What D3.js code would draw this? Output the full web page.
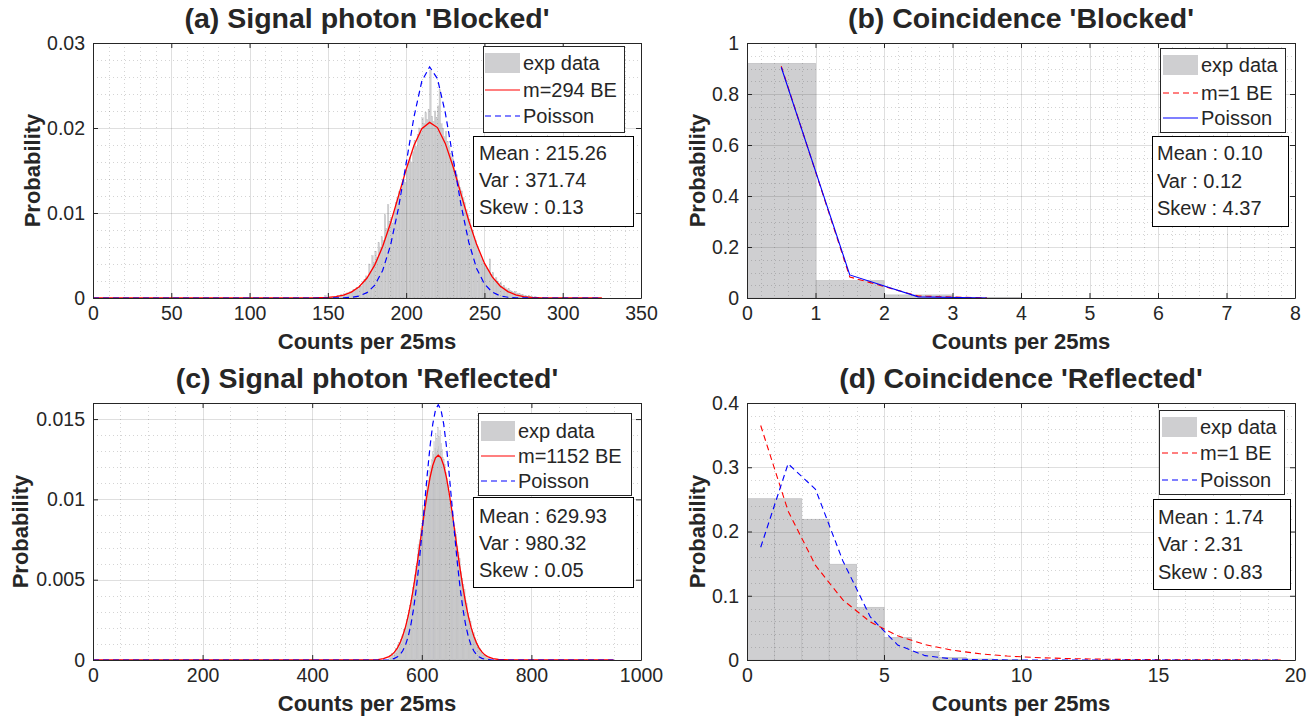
<!DOCTYPE html>
<html><head><meta charset="utf-8">
<script src="https://cdn.jsdelivr.net/npm/d3@7"></script>
<style>
body{margin:0;background:#fff;}
text{font-family:"Liberation Sans",Arial,Helvetica,sans-serif;fill:#262626;}
</style>
</head><body>
<svg id="chart" width="1311" height="722"></svg>
<script>
// ---------------- DATA ----------------
const titles = ["(a) Signal photon 'Blocked'", "(b) Coincidence 'Blocked'", "(c) Signal photon 'Reflected'", "(d) Coincidence 'Reflected'"];
const xLabel = "Counts per 25ms";
const yLabel = "Probability";

// tick values / labels
const xTicksA = [0,50,100,150,200,250,300,350];
const yTicksA = [0,0.01,0.02,0.03];
const yTickLabelsA = ["0","0.01","0.02","0.03"];
const xTicksB = [0,1,2,3,4,5,6,7,8];
const yTicksB = [0,0.2,0.4,0.6,0.8,1];
const yTickLabelsB = ["0","0.2","0.4","0.6","0.8","1"];
const xTicksC = [0,200,400,600,800,1000];
const yTicksC = [0,0.005,0.01,0.015];
const yTickLabelsC = ["0","0.005","0.01","0.015"];
const xTicksD = [0,5,10,15,20];
const yTicksD = [0,0.1,0.2,0.3,0.4];
const yTickLabelsD = ["0","0.1","0.2","0.3","0.4"];

// (a) histogram, bin width 1, first bin starts at histStartA
const histStartA = 148;
const histA = [
0.0003,0,0.0001,0,0.0001,0.0001,0.0002,0.0001,0.0003,0.0002,
0.0004,0.0003,0.0005,0.0004,0.0006,0.0005,0.0008,0.0007,0.0010,0.0009,
0.0012,0.0011,0.0015,0.0014,0.0019,0.0022,0.0026,0.0024,0.0040,0.0031,
0.0050,0.0042,0.0055,0.0048,0.0065,0.0060,0.0072,0.0068,0.0098,0.0082,
0.0110,0.0090,0.0095,0.0088,0.0102,0.0112,0.0118,0.0125,0.0121,0.0132,
0.0140,0.0136,0.0150,0.0158,0.0165,0.0160,0.0172,0.0185,0.0178,0.0192,
0.0200,0.0195,0.0212,0.0205,0.0218,0.0210,0.0222,0.0268,0.0214,0.0208,
0.0220,0.0212,0.0226,0.0245,0.0205,0.0200,0.0190,0.0196,0.0184,0.0178,
0.0170,0.0165,0.0158,0.0150,0.0145,0.0138,0.0130,0.0126,0.0118,0.0112,
0.0104,0.0098,0.0093,0.0085,0.0080,0.0072,0.0068,0.0061,0.0056,0.0050,
0.0045,0.0041,0.0039,0.0035,0.0032,0.0046,0.0028,0.0030,0.0022,0.0024,
0.0020,0.0017,0.0018,0.0014,0.0015,0.0012,0.0010,0.0011,0.0009,0.0008,
0.0007,0.0008,0.0006,0.0005,0.0005,0.0004,0.0004,0.0003,0.0003,0.0002,
0.0003,0.0002,0.0002,0.0001,0.0002,0.0001,0.0001,0.0001,0,0.0001
];
// (a) fitted curves
const curveXA = [0,140,145,150,155,160,165,170,175,180,185,190,195,200,205,210,215,220,225,230,235,240,245,250,255,260,265,270,275,280,285,290,295,300,325];
const beA = [0,0.00001,0.00003,0.00007,0.00016,0.00034,0.0007,0.00133,0.00235,0.0039,0.00605,0.00879,0.01192,0.01512,0.01794,0.01991,0.02066,0.02005,0.01819,0.01544,0.01225,0.00909,0.00631,0.0041,0.00249,0.00141,0.00075,0.00037,0.00017,0.00008,0.00003,0.00001,0,0,0];
const poisA = [0,0,0,0,0.000005,0.00002,0.00008,0.00023,0.00063,0.00151,0.00324,0.00618,0.01048,0.01584,0.0213,0.0255,0.0272,0.0258,0.0218,0.01642,0.0110,0.00656,0.00348,0.00165,0.00069,0.00026,0.00009,0.00003,0.00001,0,0,0,0,0,0];

// (b) histogram (bins of width 1 starting at 0) and curves at bin centres
const histB = [0.920,0.068,0.012,0.002];
const curveXB = [0.5,1.5,2.5,3.5];
const beB = [0.909,0.0826,0.0075,0.0007];
const poisB = [0.905,0.0905,0.0045,0.0002];

// (c) histogram, bin width 1
const histStartC = 540;
const histC = [
0.0002,0,0.0003,0.0001,0.0002,0.0004,0.0002,0.0003,0.0001,0.0004,
0.0005,0.0003,0.0007,0.0006,0.0004,0.0008,0.0009,0.0006,0.0011,0.0008,
0.0010,0.0013,0.0009,0.0015,0.0012,0.0016,0.0014,0.0019,0.0015,0.0020,
0.0021,0.0018,0.0025,0.0023,0.0028,0.0024,0.0031,0.0027,0.0034,0.0030,
0.0037,0.0040,0.0036,0.0045,0.0043,0.0048,0.0046,0.0053,0.0050,0.0058,
0.0060,0.0055,0.0066,0.0072,0.0068,0.0075,0.0070,0.0082,0.0078,0.0080,
0.0085,0.0096,0.0088,0.0094,0.0091,0.0100,0.0097,0.0104,0.0099,0.0108,
0.0106,0.0112,0.0109,0.0118,0.0114,0.0121,0.0117,0.0125,0.0119,0.0130,
0.0124,0.0128,0.0136,0.0126,0.0132,0.0141,0.0129,0.0138,0.0131,0.0145,
0.0133,0.0139,0.0127,0.0143,0.0130,0.0135,0.0124,0.0131,0.0126,0.0122,
0.0125,0.0118,0.0122,0.0115,0.0117,0.0111,0.0113,0.0106,0.0109,0.0103,
0.0100,0.0097,0.0099,0.0092,0.0095,0.0090,0.0086,0.0089,0.0083,0.0080,
0.0082,0.0076,0.0074,0.0078,0.0069,0.0071,0.0065,0.0067,0.0061,0.0063,
0.0058,0.0054,0.0055,0.0049,0.0051,0.0046,0.0047,0.0042,0.0044,0.0039,
0.0037,0.0033,0.0035,0.0030,0.0028,0.0029,0.0025,0.0026,0.0022,0.0024,
0.0020,0.0018,0.0019,0.0016,0.0015,0.0017,0.0013,0.0014,0.0011,0.0012,
0.0010,0.0009,0.0008,0.0009,0.0007,0.0006,0.0007,0.0005,0.0006,0.0004,
0.0005,0.0003,0.0004,0.0003,0.0002,0.0003,0.0002,0.0001,0.0002,0.0001,
0.0001,0,0.0001,0,0.0001
];
const curveXC = [0,500,520,530,540,545,550,555,560,565,570,575,580,585,590,595,600,605,610,615,620,625,630,635,640,645,650,655,660,665,670,675,680,685,690,695,700,705,710,715,720,730,740,760,950];
const beC = [0,0,0.000027,0.00008,0.00021,0.00032,0.00049,0.00072,0.00105,0.00148,0.00203,0.00272,0.00356,0.00454,0.00564,0.00682,0.00805,0.00927,0.01039,0.01136,0.01211,0.01259,0.01275,0.01259,0.01211,0.01136,0.01039,0.00927,0.00805,0.00682,0.00564,0.00454,0.00356,0.00272,0.00203,0.00148,0.00105,0.00072,0.00049,0.00032,0.00021,0.00008,0.00003,0,0];
const poisC = [0,0,0,0,0,0.00005,0.0001,0.00018,0.00033,0.00056,0.00091,0.00144,0.00218,0.00319,0.00446,0.00601,0.00778,0.00968,0.01157,0.01329,0.01468,0.01558,0.01589,0.01558,0.01468,0.01329,0.01157,0.00968,0.00778,0.00601,0.00446,0.00319,0.00218,0.00144,0.00091,0.00056,0.00033,0.00018,0.0001,0.00005,0.00002,0,0,0,0];

// (d) histogram (bins of width 1 starting at 0) and curves at bin centres
const histD = [0.251,0.251,0.219,0.149,0.082,0.035,0.0135,0.004,0.0015,0.0005];
const curveXD = [0.5,1.5,2.5,3.5,4.5,5.5,6.5,7.5,8.5,9.5,10.5,11.5,12.5,13.5,14.5,15.5,16.5,17.5,18.5,19.5];
const beD = [0.36496,0.23176,0.14718,0.09346,0.05935,0.03769,0.02394,0.01520,0.00965,0.00613,0.00389,0.00247,0.00157,0.00100,0.00063,0.00040,0.00026,0.00016,0.00010,0.00007];
const poisD = [0.17552,0.30540,0.26570,0.15411,0.06704,0.02333,0.00677,0.00168,0.00037,0.00007,0.00001,0,0,0,0,0,0,0,0,0];

// legends and statistics
const legendA = ["exp data","m=294 BE","Poisson"];
const legendB = ["exp data","m=1 BE","Poisson"];
const legendC = ["exp data","m=1152 BE","Poisson"];
const legendD = ["exp data","m=1 BE","Poisson"];
const statsA = ["Mean : 215.26","Var : 371.74","Skew : 0.13"];
const statsB = ["Mean : 0.10","Var : 0.12","Skew : 4.37"];
const statsC = ["Mean : 629.93","Var : 980.32","Skew : 0.05"];
const statsD = ["Mean : 1.74","Var : 2.31","Skew : 0.83"];

// ---------------- LAYOUT / STYLE ----------------
const RED = "#ff0000", BLUE = "#0000ff", BAR = "#cfcfd1", AX = "#262626";
const DASH = "6,4";

const panels = [
  {title:titles[0], x0:93, x1:641, y0:43, y1:298, xd:[0,350], yd:[0,0.03],
   xt:xTicksA, xtl:xTicksA.map(String), yt:yTicksA, ytl:yTickLabelsA, xMinor:10, yMinor:0.002,
   hist:{start:histStartA, w:1, vals:histA}, curves:[
     {x:curveXA, y:beA, color:RED, dash:null, w:1.3},
     {x:curveXA, y:poisA, color:BLUE, dash:DASH, w:1.2}],
   leg:{labels:legendA, x0:483, x1:624, y0:46, y1:132, rows:[63,90,116], patch:[485,520], tx:523,
        styles:[{patch:true},{color:RED,dash:null},{color:BLUE,dash:DASH}]},
   stats:{lines:statsA, x0:473, x1:633, y0:136, y1:226, rows:[153,180,207], tx:479},
   ylx:40},
  {title:titles[1], x0:747, x1:1295, y0:43, y1:298, xd:[0,8], yd:[0,1],
   xt:xTicksB, xtl:xTicksB.map(String), yt:yTicksB, ytl:yTickLabelsB, xMinor:0.2, yMinor:0.05,
   hist:{start:0, w:1, vals:histB}, curves:[
     {x:curveXB, y:beB, color:RED, dash:DASH, w:1.1},
     {x:curveXB, y:poisB, color:BLUE, dash:null, w:1.1}],
   leg:{labels:legendB, x0:1160, x1:1285, y0:48, y1:132, rows:[65,93,118], patch:[1163,1198], tx:1201,
        styles:[{patch:true},{color:RED,dash:DASH},{color:BLUE,dash:null}]},
   stats:{lines:statsB, x0:1152, x1:1288, y0:136, y1:226, rows:[153,181,208], tx:1157},
   ylx:705},
  {title:titles[2], x0:93, x1:641, y0:403, y1:660, xd:[0,1000], yd:[0,0.016],
   xt:xTicksC, xtl:xTicksC.map(String), yt:yTicksC, ytl:yTickLabelsC, xMinor:50, yMinor:0.001,
   hist:{start:histStartC, w:1, vals:histC}, curves:[
     {x:curveXC, y:beC, color:RED, dash:null, w:1.3},
     {x:curveXC, y:poisC, color:BLUE, dash:DASH, w:1.2}],
   leg:{labels:legendC, x0:478, x1:631, y0:413, y1:495, rows:[431,456,481], patch:[481,515], tx:518,
        styles:[{patch:true},{color:RED,dash:null},{color:BLUE,dash:DASH}]},
   stats:{lines:statsC, x0:473, x1:633, y0:497, y1:587, rows:[516,543,570], tx:479},
   ylx:28},
  {title:titles[3], x0:747, x1:1295, y0:403, y1:660, xd:[0,20], yd:[0,0.4],
   xt:xTicksD, xtl:xTicksD.map(String), yt:yTicksD, ytl:yTickLabelsD, xMinor:1, yMinor:0.02,
   hist:{start:0, w:1, vals:histD}, curves:[
     {x:curveXD, y:beD, color:RED, dash:DASH, w:1.1},
     {x:curveXD, y:poisD, color:BLUE, dash:DASH, w:1.1}],
   leg:{labels:legendD, x0:1159, x1:1284, y0:410, y1:494, rows:[427,453,480], patch:[1162,1197], tx:1200,
        styles:[{patch:true},{color:RED,dash:DASH},{color:BLUE,dash:DASH}]},
   stats:{lines:statsD, x0:1153, x1:1290, y0:499, y1:589, rows:[517,544,572], tx:1158},
   ylx:705}
];

const svg = d3.select("#chart");
svg.append("rect").attr("width",1311).attr("height",722).attr("fill","#fff");

panels.forEach((p, i) => {
  const x = d3.scaleLinear().domain(p.xd).range([p.x0, p.x1]);
  const y = d3.scaleLinear().domain(p.yd).range([p.y1, p.y0]);
  const g = svg.append("g");
  const cid = "clip" + i;
  svg.append("clipPath").attr("id", cid).append("rect")
    .attr("x", p.x0).attr("y", p.y0).attr("width", p.x1 - p.x0).attr("height", p.y1 - p.y0);

  // histogram bars
  const hb = g.append("g").attr("clip-path", `url(#${cid})`);
  const thin = (x(p.hist.start + 1) - x(p.hist.start)) < 3;
  hb.selectAll("rect").data(p.hist.vals).join("rect")
    .attr("x", (d, k) => x(p.hist.start + k * p.hist.w))
    .attr("width", (d, k) => x(p.hist.start + (k + 1) * p.hist.w) - x(p.hist.start + k * p.hist.w))
    .attr("y", d => y(d))
    .attr("height", d => y(0) - y(d))
    .attr("fill", BAR)
    .attr("stroke", thin ? "#b9b9bb" : "#bdbdbf")
    .attr("stroke-width", thin ? 0.3 : 0.7);

  // grid (drawn over bars with transparency)
  const eps = 1e-9;
  const xMin = d3.range(p.xd[0], p.xd[1] + eps, p.xMinor).filter(v => !p.xt.some(t => Math.abs(t - v) < p.xMinor / 10));
  const yMin = d3.range(p.yd[0], p.yd[1] + eps, p.yMinor).filter(v => !p.yt.some(t => Math.abs(t - v) < p.yMinor / 10));
  const grid = g.append("g");
  grid.selectAll(".mx").data(xMin).join("line")
    .attr("x1", d => Math.round(x(d)) + 0.5).attr("x2", d => Math.round(x(d)) + 0.5)
    .attr("y1", p.y0).attr("y2", p.y1)
    .attr("stroke", AX).attr("stroke-opacity", 0.2).attr("stroke-dasharray", "1,3");
  grid.selectAll(".my").data(yMin).join("line")
    .attr("y1", d => Math.round(y(d)) + 0.5).attr("y2", d => Math.round(y(d)) + 0.5)
    .attr("x1", p.x0).attr("x2", p.x1)
    .attr("stroke", AX).attr("stroke-opacity", 0.2).attr("stroke-dasharray", "1,3");
  grid.selectAll(".gx").data(p.xt).join("line")
    .attr("x1", d => Math.round(x(d)) + 0.5).attr("x2", d => Math.round(x(d)) + 0.5)
    .attr("y1", p.y0).attr("y2", p.y1)
    .attr("stroke", AX).attr("stroke-opacity", 0.15);
  grid.selectAll(".gy").data(p.yt).join("line")
    .attr("y1", d => Math.round(y(d)) + 0.5).attr("y2", d => Math.round(y(d)) + 0.5)
    .attr("x1", p.x0).attr("x2", p.x1)
    .attr("stroke", AX).attr("stroke-opacity", 0.15);

  // axes box with inward ticks (d3 axes)
  const tl = 5;
  const axB = d3.axisBottom(x).tickValues(p.xt).tickFormat((d, k) => p.xtl[k]).tickSizeInner(-tl).tickSizeOuter(0).tickPadding(8);
  const axT = d3.axisTop(x).tickValues(p.xt).tickFormat("").tickSizeInner(-tl).tickSizeOuter(0);
  const axL = d3.axisLeft(y).tickValues(p.yt).tickFormat((d, k) => p.ytl[k]).tickSizeInner(-tl).tickSizeOuter(0).tickPadding(8);
  const axR = d3.axisRight(y).tickValues(p.yt).tickFormat("").tickSizeInner(-tl).tickSizeOuter(0);

  // curves
  const cg = g.append("g").attr("clip-path", `url(#${cid})`);
  p.curves.forEach(c => {
    const line = d3.line().x((d, k) => x(c.x[k])).y(d => y(d));
    cg.append("path").datum(c.y).attr("d", line)
      .attr("fill", "none").attr("stroke", c.color).attr("stroke-width", c.w)
      .attr("stroke-dasharray", c.dash);
  });

  const style = sel => {
    sel.select(".domain").attr("stroke", AX).attr("stroke-width", 1);
    sel.selectAll(".tick line").attr("stroke", AX);
    sel.selectAll(".tick text").attr("font-size", "19.5px").attr("fill", AX)
      .attr("font-family", '"Liberation Sans",Arial,sans-serif');
  };
  g.append("g").attr("transform", `translate(0,${p.y1})`).call(axB).call(style);
  g.append("g").attr("transform", `translate(0,${p.y0})`).call(axT).call(style);
  g.append("g").attr("transform", `translate(${p.x0},0)`).call(axL).call(style);
  g.append("g").attr("transform", `translate(${p.x1},0)`).call(axR).call(style);

  // title and labels
  const cx = (p.x0 + p.x1) / 2;
  g.append("text").attr("x", cx).attr("y", p.y0 - 15).attr("text-anchor", "middle")
    .attr("font-size", "28.5px").attr("font-weight", "bold").attr("fill", "#000").text(p.title);
  g.append("text").attr("x", cx).attr("y", p.y1 + 51).attr("text-anchor", "middle")
    .attr("font-size", "22px").attr("font-weight", "bold").attr("fill", "#000").text(xLabel);
  g.append("text").attr("transform", `translate(${p.ylx},${(p.y0 + p.y1) / 2}) rotate(-90)`)
    .attr("text-anchor", "middle").attr("font-size", "22px").attr("font-weight", "bold").attr("fill", "#000").text(yLabel);

  // legend
  const L = p.leg;
  const lg = g.append("g");
  lg.append("rect").attr("x", L.x0 + 0.5).attr("y", L.y0 + 0.5).attr("width", L.x1 - L.x0).attr("height", L.y1 - L.y0)
    .attr("fill", "#fff").attr("stroke", AX).attr("stroke-width", 1);
  L.labels.forEach((lab, k) => {
    const st = L.styles[k], ry = L.rows[k];
    if (st.patch) {
      lg.append("rect").attr("x", L.patch[0]).attr("y", ry - 10).attr("width", L.patch[1] - L.patch[0]).attr("height", 20)
        .attr("fill", BAR);
    } else {
      lg.append("line").attr("x1", L.patch[0]).attr("x2", L.patch[1]).attr("y1", ry).attr("y2", ry)
        .attr("stroke", st.color).attr("stroke-width", 1.1).attr("stroke-dasharray", st.dash);
    }
    lg.append("text").attr("x", L.tx).attr("y", ry + 7).attr("font-size", "20px").attr("fill", "#000").text(lab);
  });

  // stats box
  const S = p.stats;
  const sg = g.append("g");
  sg.append("rect").attr("x", S.x0 + 0.5).attr("y", S.y0 + 0.5).attr("width", S.x1 - S.x0).attr("height", S.y1 - S.y0)
    .attr("fill", "#fff").attr("stroke", "#000").attr("stroke-width", 1);
  S.lines.forEach((t, k) => {
    sg.append("text").attr("x", S.tx).attr("y", S.rows[k] + 7).attr("font-size", "20px").attr("fill", "#000").text(t);
  });
});
</script>
</body></html>
